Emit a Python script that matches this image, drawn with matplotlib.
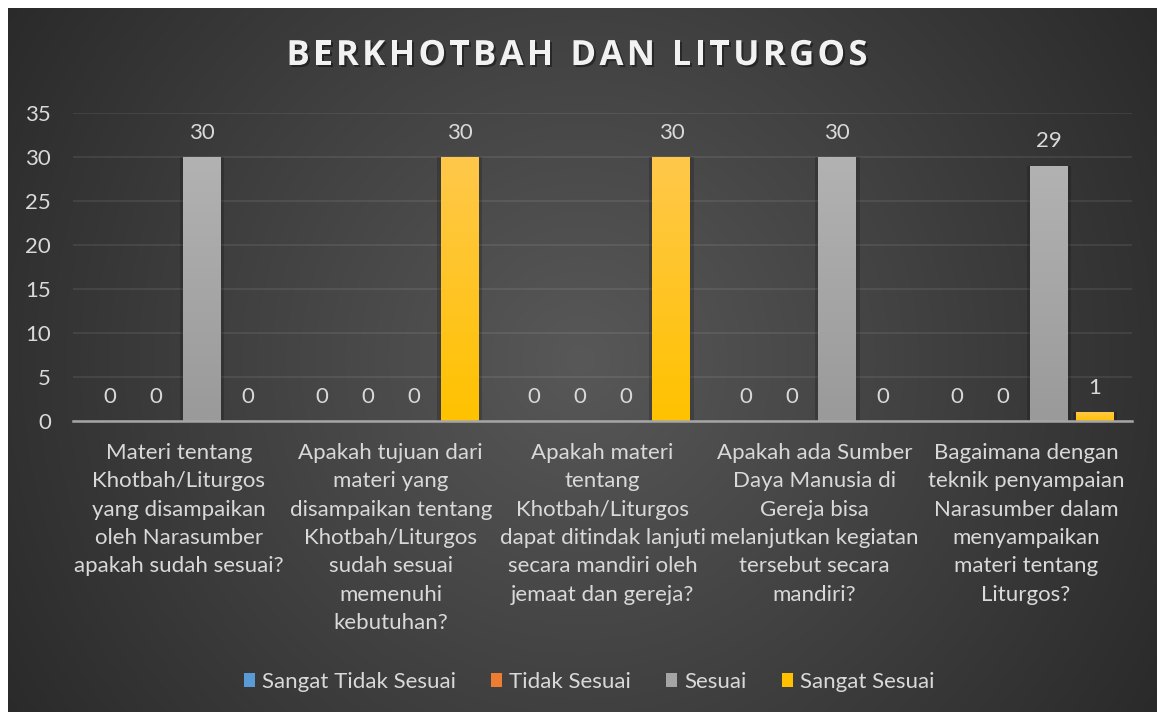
import numpy as np
import matplotlib
matplotlib.use("Agg")
import matplotlib.pyplot as plt
from matplotlib.patches import Patch
import matplotlib.patheffects as pe

# data
categories = [
    "Materi tentang\nKhotbah/Liturgos\nyang disampaikan\noleh Narasumber\napakah sudah sesuai?",
    "Apakah tujuan dari\nmateri yang\ndisampaikan tentang\nKhotbah/Liturgos\nsudah sesuai\nmemenuhi\nkebutuhan?",
    "Apakah materi\ntentang\nKhotbah/Liturgos\ndapat ditindak lanjuti\nsecara mandiri oleh\njemaat dan gereja?",
    "Apakah ada Sumber\nDaya Manusia di\nGereja bisa\nmelanjutkan kegiatan\ntersebut secara\nmandiri?",
    "Bagaimana dengan\nteknik penyampaian\nNarasumber dalam\nmenyampaikan\nmateri tentang\nLiturgos?",
]
series_names = ["Sangat Tidak Sesuai", "Tidak Sesuai", "Sesuai", "Sangat Sesuai"]
sangat_tidak_sesuai = [0, 0, 0, 0, 0]
tidak_sesuai = [0, 0, 0, 0, 0]
sesuai = [30, 0, 0, 30, 29]
sangat_sesuai = [0, 30, 30, 0, 1]
y_ticks = [0, 5, 10, 15, 20, 25, 30, 35]
title = "BERKHOTBAH DAN LITURGOS"

# style
series_values = [sangat_tidak_sesuai, tidak_sesuai, sesuai, sangat_sesuai]
colors = ["#5b9bd5", "#ed7d31", "#a5a5a5", "#ffc000"]
grad_top = ["#7eb0de", "#f09555", "#b2b2b2", "#ffc84a"]
grad_bot = ["#4a8cc9", "#e0701f", "#9a9a9a", "#ffc200"]
text_col = "#d9d9d9"
font = "Lato"

W, H = 1160, 715
fig = plt.figure(figsize=(W / 100, H / 100), dpi=100, facecolor="white")

# radial background
bg = fig.add_axes([8 / W, 3 / H, 1149 / W, 704 / H])
bg.set_axis_off()
xx, yy = np.meshgrid(np.arange(8, 1157), np.arange(8, 712))
dist = np.hypot(xx - 580, yy - 360)
val = (88 - dist * 0.068) / 255.0
val = np.clip(val, 0, 1)
bg.imshow(np.dstack([val, val, val]), aspect="auto", extent=[0, 1, 0, 1],
          interpolation="bilinear")
bg.set_xlim(0, 1)
bg.set_ylim(0, 1)

ax = fig.add_axes([73 / W, 1 - 421 / H, 1059 / W, 308 / H])
ax.patch.set_alpha(0)

n = len(categories)
x = np.arange(n)
step = 0.217
bw = 0.179
offsets = (np.arange(4) - 1.5) * step


def gradient_bar(axis, rect, top, bot):
    """Fill a bar with a vertical gradient."""
    x0, y0 = rect.get_x(), rect.get_y()
    w, h = rect.get_width(), rect.get_height()
    if h <= 0:
        return
    c1 = np.array(matplotlib.colors.to_rgb(top))
    c2 = np.array(matplotlib.colors.to_rgb(bot))
    t = np.linspace(0, 1, 64)[:, None]
    img = (c1 * (1 - t) + c2 * t)[:, None, :]
    im = axis.imshow(img, extent=[x0, x0 + w, y0, y0 + h], aspect="auto",
                     zorder=3, interpolation="bilinear")
    im.set_clip_path(rect)


for i, vals in enumerate(series_values):
    pos = x + offsets[i]
    # soft shadow
    ax.bar(pos, vals, width=bw * 1.18, color="black", alpha=0.18, zorder=2)
    bars = ax.bar(pos, vals, width=bw, color=colors[i], zorder=3,
                  label=series_names[i])
    for b in bars:
        gradient_bar(ax, b, grad_top[i], grad_bot[i])
    for p, v in zip(pos, vals):
        ax.annotate(str(v), (p, v), xytext=(0, 17.5), textcoords="offset points",
                    ha="center", va="center", color=text_col, fontsize=16,
                    family=font, zorder=5)

ax.set_xlim(-0.5, n - 0.5)
ax.set_ylim(0, 35)
ax.set_yticks(y_ticks)
ax.set_yticklabels([str(t) for t in y_ticks], color=text_col, fontsize=16,
                   family=font)
ax.tick_params(axis="y", length=0, pad=16)
ax.set_xticks([])
for s in ["top", "right", "left"]:
    ax.spines[s].set_visible(False)
ax.spines["bottom"].set_color("#a6a6a6")
ax.spines["bottom"].set_linewidth(1.8)
ax.spines["bottom"].set_zorder(4)
ax.grid(axis="y", color="white", alpha=0.1, linewidth=1.1, zorder=0)
ax.set_axisbelow(True)

trans = matplotlib.transforms.blended_transform_factory(ax.transData,
                                                        ax.transAxes)
for i, lab in enumerate(categories):
    ax.text(i, -0.072, lab, transform=trans, ha="center", va="top",
            color=text_col, fontsize=16, family=font, linespacing=1.52)

# title with letter spacing, drawn char by char
renderer = fig.canvas.get_renderer()
title_kw = dict(color="#f2f2f2", fontsize=25, fontweight="bold",
                family="Open Sans", va="center", ha="left",
                path_effects=[pe.withSimplePatchShadow(offset=(1.5, -1.5),
                                                       shadow_rgbFace="black",
                                                       alpha=0.4)])
spacing = 3.3
widths = []
for ch in title:
    tt = fig.text(0, 0, ch if ch != " " else "n", **title_kw)
    wpx = tt.get_window_extent(renderer).width
    if ch == " ":
        wpx *= 0.45
    widths.append(wpx)
    tt.remove()
total = sum(widths) + spacing * (len(title) - 1)
cur = 577 - total / 2
for ch, wpx in zip(title, widths):
    if ch != " ":
        fig.text(cur / W, 1 - 56 / H, ch, **title_kw)
    cur += wpx + spacing

handles = [Patch(facecolor=c) for c in colors]
leg = fig.legend(handles, series_names, loc="center", ncol=4,
                 bbox_to_anchor=(589 / W, 1 - 682 / H), frameon=False,
                 handlelength=0.5, handleheight=0.6, handletextpad=0.3,
                 columnspacing=1.6, prop={"family": font, "size": 16})
for t in leg.get_texts():
    t.set_color(text_col)

fig.savefig("out.png", dpi=100, facecolor="white")
